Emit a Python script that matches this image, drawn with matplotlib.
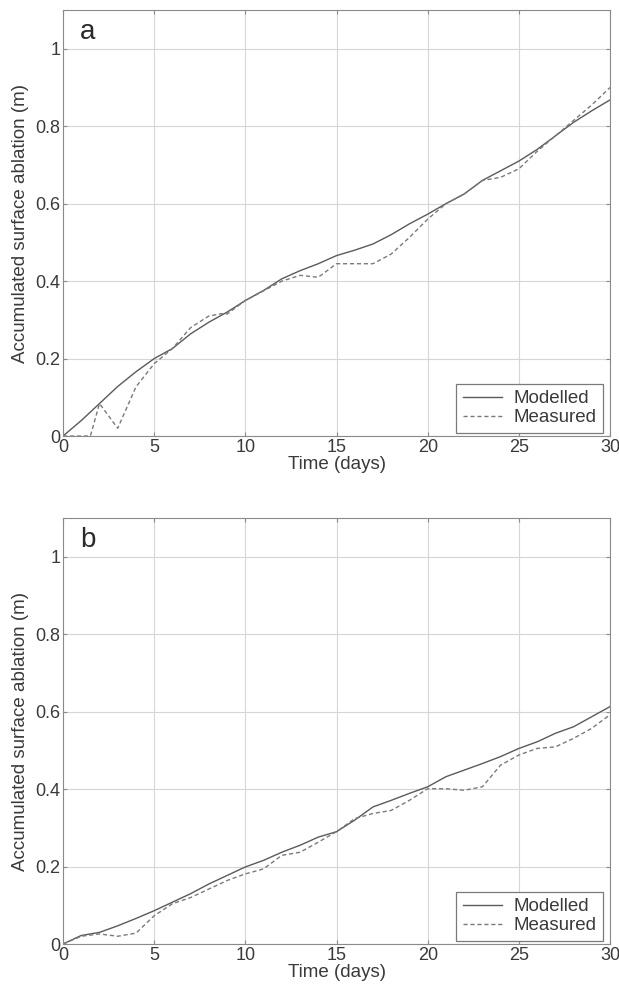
import numpy as np
import matplotlib
matplotlib.use('Agg')
from matplotlib import pyplot as plt

plt.rcParams['font.family'] = ['Liberation Sans', 'DejaVu Sans']

# days
days = list(range(0, 31))

# panel a
modelled_a = [0.0, 0.04, 0.084, 0.128, 0.166, 0.2, 0.226, 0.264, 0.294, 0.32,
              0.35, 0.376, 0.406, 0.427, 0.445, 0.466, 0.48, 0.496, 0.52, 0.548,
              0.573, 0.6, 0.625, 0.66, 0.685, 0.71, 0.74, 0.775, 0.81, 0.84, 0.868]
meas_a_days = [0, 1.5, 2, 3, 4, 5, 6, 7, 8, 8.7, 9, 10, 11, 12, 13, 14, 15, 16, 17,
               18, 19, 20, 21, 22, 23, 24, 25, 26, 27, 28, 29, 30]
measured_a = [0.0, 0.0, 0.084, 0.02, 0.127, 0.187, 0.226, 0.28, 0.31, 0.316, 0.315,
              0.35, 0.375, 0.4, 0.415, 0.41, 0.445, 0.445, 0.445, 0.47, 0.513,
              0.56, 0.6, 0.625, 0.66, 0.668, 0.69, 0.735, 0.775, 0.815, 0.855, 0.9]

# panel b
modelled_b = [0.0, 0.022, 0.03, 0.047, 0.066, 0.086, 0.108, 0.13, 0.155, 0.177,
              0.199, 0.216, 0.237, 0.255, 0.276, 0.29, 0.32, 0.354, 0.371, 0.389,
              0.406, 0.432, 0.449, 0.466, 0.484, 0.505, 0.522, 0.544, 0.561, 0.587, 0.613]
measured_b = [0.0, 0.02, 0.026, 0.02, 0.028, 0.073, 0.104, 0.12, 0.142, 0.164,
              0.181, 0.194, 0.229, 0.237, 0.263, 0.29, 0.324, 0.337, 0.345, 0.371,
              0.401, 0.401, 0.397, 0.406, 0.462, 0.488, 0.505, 0.509, 0.531, 0.557, 0.592]

panels = [
    ('a', days, modelled_a, meas_a_days, measured_a),
    ('b', days, modelled_b, days, measured_b),
]

fig = plt.figure(figsize=(6.19, 9.96), dpi=100)
boxes = [[0.1018, 0.5622, 0.8837, 0.4277], [0.1018, 0.0522, 0.8837, 0.4277]]
txt = '#3a3a3a'

for box, (tag, xm, ym, xs, ys) in zip(boxes, panels):
    ax = fig.add_axes(box)
    ax.plot(xm, ym, color='#5a5a5a', lw=1.0, label='Modelled')
    ax.plot(xs, ys, color='#7a7a7a', lw=1.0, ls=(0, (3, 2)), label='Measured')
    ax.set_xlim(0, 30)
    ax.set_ylim(0, 1.1)
    ax.set_xticks([0, 5, 10, 15, 20, 25, 30])
    ax.set_yticks([0, 0.2, 0.4, 0.6, 0.8, 1])
    ax.set_yticklabels(['0', '0.2', '0.4', '0.6', '0.8', '1'])
    ax.grid(color='#d6d6d6', lw=0.8)
    for s in ax.spines.values():
        s.set_color('#8a8a8a')
    ax.tick_params(direction='in', length=3, color='#8a8a8a', labelsize=13,
                   labelcolor=txt, pad=2, top=True, right=True)
    ax.set_xlabel('Time (days)', fontsize=13.5, color=txt, labelpad=0)
    ax.set_ylabel('Accumulated surface ablation (m)', fontsize=13.5, color=txt)
    ax.yaxis.set_label_coords(-0.062, 0.5)
    ax.text(0.031, 0.932, tag, transform=ax.transAxes, fontsize=20, va='baseline',
            ha='left', color='#2a2a2a')
    leg = ax.legend(loc='lower right', bbox_to_anchor=(1 - 7 / 547, 3 / 426),
                    fontsize=13.5, handlelength=2.1, handletextpad=0.6,
                    fancybox=False, framealpha=1, borderaxespad=0,
                    labelspacing=0.1, borderpad=0.35)
    leg.get_frame().set_edgecolor('#7a7a7a')
    leg.get_frame().set_linewidth(0.9)
    for t in leg.get_texts():
        t.set_color(txt)

fig.savefig('out.png', dpi=100)
